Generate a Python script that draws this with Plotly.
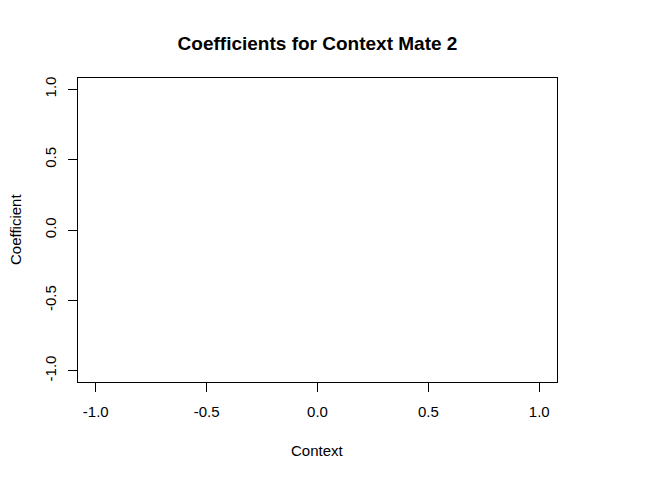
import plotly.graph_objects as go

# Data (the reference plot is empty: no points drawn)
context = []
coefficient = []

x_ticks = [-1.0, -0.5, 0.0, 0.5, 1.0]
y_ticks = [-1.0, -0.5, 0.0, 0.5, 1.0]
x_tick_labels = ["-1.0", "-0.5", "0.0", "0.5", "1.0"]
y_tick_labels = ["-1.0", "-0.5", "0.0", "0.5", "1.0"]

W, H = 672, 480
OFF = 8  # page body margin offset
L, T = 78 - OFF, 78 - OFF
R = W - (557 - OFF)
B = H - (382 - OFF)

fig = go.Figure()
fig.add_trace(go.Scatter(x=context, y=coefficient, mode="markers",
                         marker=dict(color="black", size=6, symbol="circle-open"),
                         showlegend=False))

font = dict(family="Liberation Sans, Arial, sans-serif", size=15, color="black")

axis_common = dict(showline=True, linecolor="black", linewidth=1, mirror=True,
                   ticks="outside", ticklen=9, tickwidth=1, tickcolor="black",
                   showgrid=False, zeroline=False, tickfont=font)

fig.update_xaxes(range=[-1.08, 1.08], tickvals=x_ticks, ticktext=x_tick_labels,
                 ticklabelstandoff=7, **axis_common)
fig.update_yaxes(range=[-1.08, 1.08], tickvals=y_ticks, ticktext=y_tick_labels,
                 tickangle=-90, ticklabelstandoff=6, **axis_common)

fig.update_layout(
    width=W, height=H,
    margin=dict(l=L, r=R, t=T, b=B, autoexpand=False),
    paper_bgcolor="white", plot_bgcolor="white",
    font=font,
    title=dict(text="<b>Coefficients for Context Mate 2</b>",
               x=(L + (W - R)) / 2 / W, xanchor="center",
               y=1 - (43 - OFF) / H, yanchor="middle",
               font=dict(family="Liberation Sans, Arial, sans-serif", size=19, color="black")),
    showlegend=False,
)

fig.add_annotation(text="Context", xref="paper", yref="paper",
                   x=0.5, y=-((450 - OFF) - (H - B)) / (H - T - B),
                   xanchor="center", yanchor="middle", showarrow=False, font=font)
fig.add_annotation(text="Coefficient", xref="paper", yref="paper",
                   x=-(L - (15 - OFF)) / (W - L - R), y=0.5, textangle=-90,
                   xanchor="center", yanchor="middle", showarrow=False, font=font)

fig.write_html("out.html")
